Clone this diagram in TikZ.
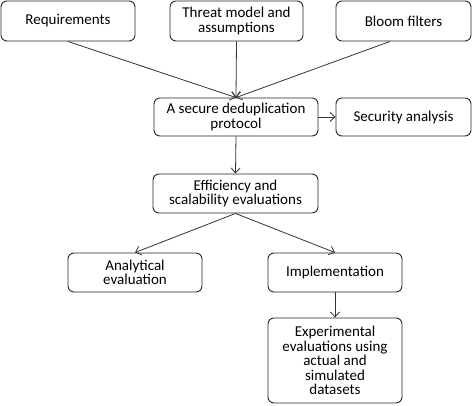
\documentclass[tikz,border=0pt]{standalone}
\usepackage{fontspec}
\setmainfont{Carlito}
\usetikzlibrary{arrows.meta}
\begin{document}
\begin{tikzpicture}[x=1pt,y=-1pt,
  box/.style={draw=black!85,line width=0.9pt,rounded corners=6pt,align=center,
    inner sep=0pt,font=\fontsize{15}{14.5}\selectfont},
  arr/.style={draw=black!80,line width=0.8pt,-{Straight Barb[length=5pt,width=9pt]}}]
\useasboundingbox (0,0) rectangle (472,405);
\node[box,minimum width=134pt,minimum height=40pt] (req) at (68,21) {Requirements};
\node[box,minimum width=133pt,minimum height=40pt] (threat) at (236.5,21) {Threat model and\\assumptions};
\node[box,minimum width=135pt,minimum height=40pt] (bloom) at (403.5,21) {Bloom filters};
\node[box,minimum width=164pt,minimum height=38pt] (secure) at (236,117) {A secure deduplication\\protocol};
\node[box,minimum width=135pt,minimum height=38pt] (secan) at (403.5,117) {Security analysis};
\node[box,minimum width=165pt,minimum height=39pt] (eff) at (235.5,193.5) {Efficiency and\\scalability evaluations};
\node[box,minimum width=134pt,minimum height=39pt] (ana) at (135,272.5) {Analytical\\evaluation};
\node[box,minimum width=134pt,minimum height=39pt] (impl) at (335,272.5) {Implementation};
\node[box,minimum width=134pt,minimum height=85pt] (exp) at (335,360.5) {Experimental\\evaluations using\\actual and\\simulated\\datasets};
\draw[arr] (req.south) -- (secure.north);
\draw[arr] (threat.south) -- (secure.north);
\draw[arr] ([xshift=-13.5pt]bloom.south) -- (secure.north);
\draw[arr] (secure.east) -- (secan.west);
\draw[arr] (secure.south) -- (eff.north);
\draw[arr] (eff.south) -- (ana.north);
\draw[arr] (eff.south) -- (impl.north);
\draw[arr] (impl.south) -- (exp.north);
\end{tikzpicture}
\end{document}
